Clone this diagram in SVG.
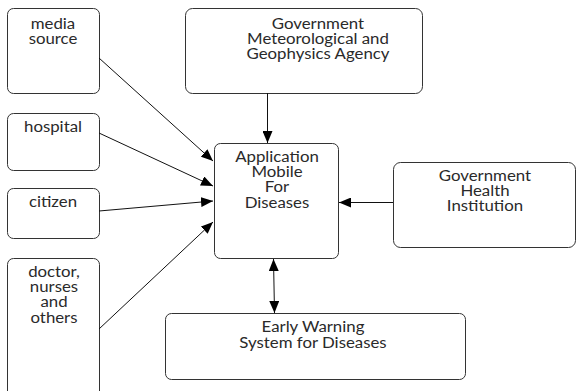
<svg xmlns="http://www.w3.org/2000/svg" width="576" height="391" viewBox="0 0 576 391">
  <style>
    .box { fill: #ffffff; stroke: #333333; stroke-width: 1; }
    .lbl { font-family: Lato, "Liberation Sans", sans-serif; font-size: 14.5px; fill: #2a2a2a; text-anchor: middle;
           transform-box: fill-box; transform-origin: center; transform: scaleX(1.16); }
    .con { stroke: #111111; stroke-width: 1; fill: none; }
  </style>
  <defs>
    <marker id="arrow" viewBox="0 0 12 10" refX="12" refY="5" markerWidth="12" markerHeight="10" markerUnits="userSpaceOnUse" orient="auto-start-reverse">
      <path d="M0,0 L12,5 L0,10 Z" fill="#000000"/>
    </marker>
  </defs>
  <rect width="576" height="391" fill="#ffffff"/>

  <g id="media-source">
    <rect class="box" x="7.5" y="8.5" width="92" height="85" rx="6"/>
    <text class="lbl" x="53" y="29">media</text>
    <text class="lbl" x="53" y="44">source</text>
  </g>

  <g id="hospital">
    <rect class="box" x="7.5" y="113.5" width="92" height="57" rx="6"/>
    <text class="lbl" x="53" y="132">hospital</text>
  </g>

  <g id="citizen">
    <rect class="box" x="7.5" y="188.5" width="92" height="50" rx="6"/>
    <text class="lbl" x="53" y="207">citizen</text>
  </g>

  <g id="doctor-nurses-others">
    <rect class="box" x="7.5" y="258.5" width="92" height="145" rx="6"/>
    <text class="lbl" x="54" y="277">doctor,</text>
    <text class="lbl" x="54" y="292">nurses</text>
    <text class="lbl" x="54" y="307">and</text>
    <text class="lbl" x="54" y="323">others</text>
  </g>

  <g id="gov-meteorological">
    <rect class="box" x="185.5" y="8.5" width="237" height="85" rx="7"/>
    <text class="lbl" x="318" y="29">Government</text>
    <text class="lbl" x="318" y="44">Meteorological and</text>
    <text class="lbl" x="318" y="59">Geophysics Agency</text>
  </g>

  <g id="app-mobile">
    <rect class="box" x="214.5" y="143.5" width="124" height="115" rx="6"/>
    <text class="lbl" x="277" y="162">Application</text>
    <text class="lbl" x="277" y="177">Mobile</text>
    <text class="lbl" x="277" y="192">For</text>
    <text class="lbl" x="277" y="208">Diseases</text>
  </g>

  <g id="gov-health">
    <rect class="box" x="393.5" y="162.5" width="182" height="85" rx="7"/>
    <text class="lbl" x="485" y="181">Government</text>
    <text class="lbl" x="485" y="196">Health</text>
    <text class="lbl" x="485" y="211">Institution</text>
  </g>

  <g id="early-warning">
    <rect class="box" x="165.5" y="313.5" width="300" height="66" rx="6"/>
    <text class="lbl" x="313" y="332">Early Warning</text>
    <text class="lbl" x="313" y="348">System for Diseases</text>
  </g>

  <g id="connectors">
    <line class="con" x1="99" y1="58" x2="213" y2="161" marker-end="url(#arrow)"/>
    <line class="con" x1="99" y1="133" x2="213" y2="186" marker-end="url(#arrow)"/>
    <line class="con" x1="99" y1="211" x2="213" y2="201" marker-end="url(#arrow)"/>
    <line class="con" x1="99" y1="329" x2="213" y2="222" marker-end="url(#arrow)"/>
    <line class="con" x1="267.5" y1="93" x2="267.5" y2="143" marker-end="url(#arrow)"/>
    <line class="con" x1="393" y1="202.5" x2="339" y2="202.5" marker-end="url(#arrow)"/>
    <line class="con" x1="273.5" y1="259" x2="274.5" y2="313" marker-start="url(#arrow)" marker-end="url(#arrow)"/>
  </g>
</svg>
